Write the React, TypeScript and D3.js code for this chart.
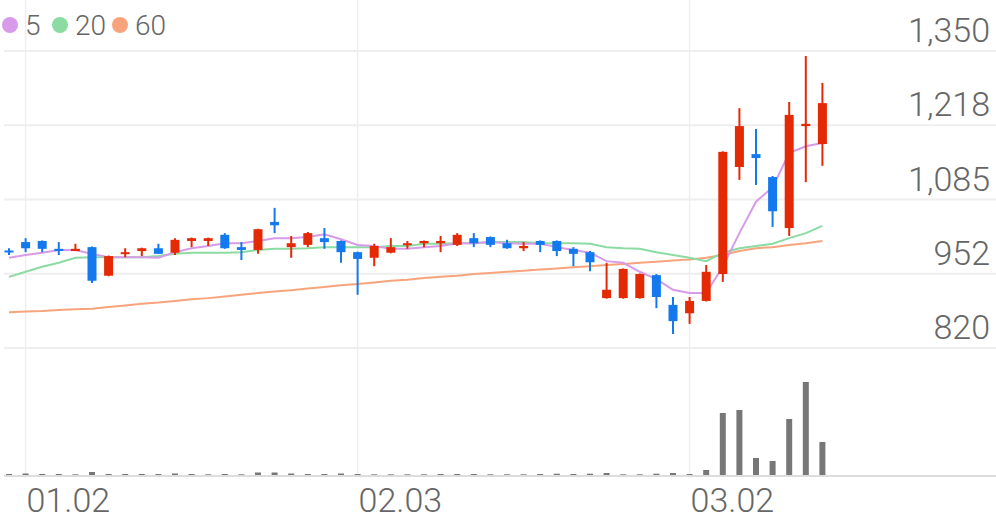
import * as d3 from 'd3';
import React from 'react';

// daily candles, oldest first: [open, high, low, close]
const opens = [994, 1009, 1011, 997, 993, 1000, 949, 990, 993, 998, 990, 1011, 1011, 1022, 1000, 995, 1045, 1000, 1004, 1016, 1011, 991, 981, 990, 1004, 1007, 1007, 1004, 1016, 1018, 1007, 998, 1011, 1011, 997, 991, 909, 909, 909, 950, 897, 882, 904, 952, 1143, 1166, 1125, 1034, 1216, 1184];
const highs = [998, 1016, 1012, 1009, 1006, 1001, 985, 998, 999, 1006, 1016, 1017, 1017, 1025, 1009, 1033, 1070, 1020, 1027, 1034, 1012, 992, 1006, 1016, 1011, 1012, 1020, 1025, 1025, 1019, 1013, 1009, 1012, 1012, 1000, 993, 972, 962, 953, 952, 911, 911, 968, 1171, 1248, 1211, 1127, 1259, 1341, 1293];
const lows = [986, 991, 991, 986, 993, 936, 948, 982, 984, 988, 986, 1000, 1002, 997, 977, 988, 1025, 981, 1000, 997, 972, 915, 966, 989, 997, 1000, 991, 1002, 1000, 1000, 997, 993, 991, 984, 966, 957, 908, 908, 908, 891, 845, 863, 903, 938, 1120, 1111, 1036, 1020, 1116, 1145];
const closes = [993, 998, 997, 993, 997, 940, 984, 991, 998, 988, 1013, 1016, 1016, 998, 995, 1032, 1039, 1007, 1025, 1009, 991, 979, 1002, 1000, 1007, 1011, 1011, 1022, 1007, 1004, 998, 1002, 1004, 993, 988, 973, 924, 961, 952, 911, 868, 904, 956, 1170, 1216, 1159, 1064, 1236, 1220, 1257];
const volumes = [100, 150, 100, 100, 70, 300, 100, 100, 100, 100, 150, 100, 70, 100, 70, 250, 250, 150, 100, 100, 150, 100, 70, 70, 70, 70, 100, 100, 100, 70, 70, 70, 100, 130, 100, 130, 200, 70, 70, 130, 200, 100, 500, 6200, 6500, 1700, 1400, 5600, 9300, 3300];

// moving averages as shown on the chart
const ma5 = [981, 986, 990, 995, 995, 988, 982, 982, 982, 981, 991, 998, 1002, 1007, 1007, 1011, 1016, 1016, 1018, 1023, 1014, 1004, 1002, 997, 997, 1000, 1002, 1007, 1007, 1009, 1007, 1006, 1006, 1000, 995, 990, 975, 972, 956, 943, 924, 918, 918, 965, 1025, 1081, 1107, 1168, 1180, 1186];
const ma20 = [947, 956, 965, 972, 981, 982, 982, 982, 982, 984, 988, 990, 990, 990, 991, 995, 997, 997, 998, 1000, 1000, 1000, 1000, 1002, 1002, 1006, 1006, 1007, 1007, 1009, 1009, 1009, 1007, 1007, 1007, 1006, 1000, 998, 997, 991, 986, 981, 975, 990, 998, 1002, 1006, 1016, 1025, 1038];
const ma60 = [884, 885, 886, 888, 889, 890, 893, 896, 899, 901, 904, 907, 909, 912, 915, 918, 921, 923, 926, 929, 932, 934, 937, 940, 942, 945, 947, 949, 952, 954, 956, 958, 960, 962, 964, 966, 968, 970, 972, 974, 976, 978, 981, 986, 993, 998, 1000, 1004, 1007, 1011];

const priceTicks = [820, 952.5, 1085, 1217.5, 1350];
const priceLabels = ['820', '952', '1,085', '1,218', '1,350'];
const dateTickIndex = [1, 21, 41];
const dateLabels = ['01.02', '02.03', '03.02'];

const maNames = ['5', '20', '60'];
const maColours = ['#d79be9', '#8cdba2', '#f7a47c'];

const UP = '#e42a05';
const DOWN = '#1479ee';

const W = 996;
const H = 519;

export default function App() {
    const x = d3.scaleLinear().domain([0, closes.length - 1]).range([9, 822.4]);
    const y = d3.scaleLinear().domain([820, 1350]).range([348, 51]);
    const yVol = d3.scaleLinear().domain([0, d3.max(volumes) as number]).range([475, 382]);

    const lineGen = (vals: number[]) =>
        d3.line<number>().x((_, i) => x(i)).y((d) => y(d))(vals) as string;

    const candles = closes.map((c, i) => {
        const o = opens[i];
        const up = c > o;
        const colour = up ? UP : DOWN;
        const top = y(Math.max(o, c));
        const bot = y(Math.min(o, c));
        return (
            <g key={i}>
                <line x1={x(i)} x2={x(i)} y1={y(highs[i])} y2={y(lows[i])} stroke={colour} strokeWidth={2} />
                <rect x={x(i) - 4.5} y={top} width={9} height={Math.max(bot - top, 2)} fill={colour} />
            </g>
        );
    });

    const volBars = volumes.map((v, i) => (
        <rect key={i} x={x(i) - 3} y={yVol(v)} width={6} height={475 - yVol(v)} fill="#777" />
    ));

    return (
        <svg width={W} height={H} style={{ position: 'absolute', left: 0, top: 0 }}
            fontFamily="Roboto, 'Noto Sans', sans-serif">
            <rect width={W} height={H} fill="#fff" />
            {priceTicks.map((t) => (
                <line key={t} x1={4} x2={W} y1={y(t)} y2={y(t)} stroke="#eee" strokeWidth={2} />
            ))}
            {dateTickIndex.map((d) => (
                <line key={d} x1={x(d)} x2={x(d)} y1={0} y2={476} stroke="#eee" strokeWidth={1.5} />
            ))}
            <line x1={4} x2={W} y1={476} y2={476} stroke="#ddd" strokeWidth={2} />

            {volBars}

            <path d={lineGen(ma60)} fill="none" stroke={maColours[2]} strokeWidth={2} />
            <path d={lineGen(ma20)} fill="none" stroke={maColours[1]} strokeWidth={2} />
            <path d={lineGen(ma5)} fill="none" stroke={maColours[0]} strokeWidth={2} />

            {candles}

            {priceTicks.map((t, i) => (
                <text key={t} x={990} y={y(t) - 9} textAnchor="end" fontSize={34} fontWeight={300} fill="#666">
                    {priceLabels[i]}
                </text>
            ))}
            {dateTickIndex.map((d, i) => (
                <text key={d} x={x(d) + 1} y={512} fontSize={34} fontWeight={300} fill="#666">
                    {dateLabels[i]}
                </text>
            ))}

            {maNames.map((n, i) => (
                <g key={n} transform={`translate(${[10, 60, 120][i]},0)`}>
                    <circle cx={0} cy={25} r={8} fill={maColours[i]} />
                    <text x={15} y={35} fontSize={28} fontWeight={300} fill="#666">{n}</text>
                </g>
            ))}
        </svg>
    );
}
